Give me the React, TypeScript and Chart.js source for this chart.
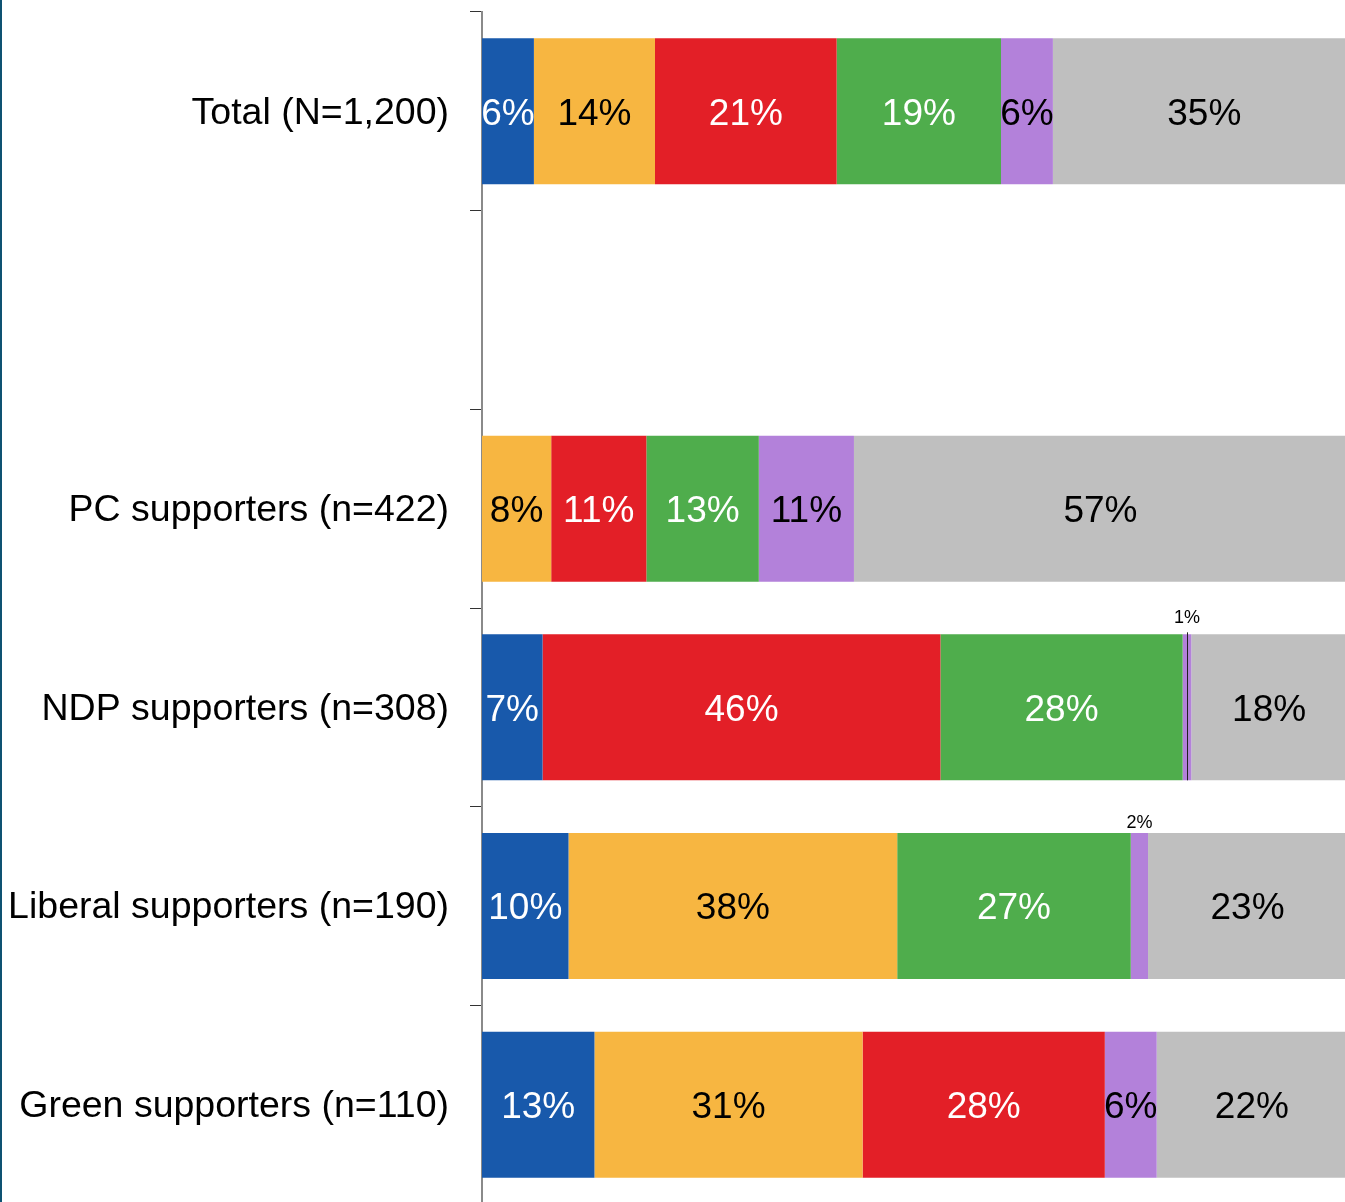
import React, { useEffect, useRef } from "react";
import { Chart, registerables } from "chart.js";

Chart.register(...registerables);

const categories = [
  "Total (N=1,200)",
  "",
  "PC supporters (n=422)",
  "NDP supporters (n=308)",
  "Liberal supporters (n=190)",
  "Green supporters (n=110)",
];

const seriesNames = ["PC", "NDP", "Liberal", "Green", "Other", "None / Undecided"];
const pcValues = [6, null, null, 7, 10, 13];
const ndpValues = [14, null, 8, null, 38, 31];
const liberalValues = [21, null, 11, 46, null, 28];
const greenValues = [19, null, 13, 28, 27, null];
const otherValues = [6, null, 11, 1, 2, 6];
const noneValues = [35, null, 57, 18, 23, 22];

const seriesColors = ["#1859AB", "#F7B641", "#E31F27", "#4FAD4C", "#B381DA", "#BFBFBF"];
const labelColors = ["#FFFFFF", "#000000", "#FFFFFF", "#FFFFFF", "#000000", "#000000"];

const FONT = '"Liberation Sans", Arial, Helvetica, sans-serif';

const labelPlugin = {
  id: "segmentLabels",
  beforeDraw(chart: any) {
    const ctx = chart.ctx;
    ctx.save();
    ctx.fillStyle = "#FFFFFF";
    ctx.fillRect(0, 0, chart.width, chart.height);
    ctx.fillStyle = "#0E5272";
    ctx.fillRect(0, 0, 2, chart.height);
    ctx.restore();
  },
  afterDatasetsDraw(chart: any) {
    const ctx = chart.ctx;
    ctx.save();
    chart.data.datasets.forEach((ds: any, di: number) => {
      const meta = chart.getDatasetMeta(di);
      meta.data.forEach((el: any, i: number) => {
        const v = ds.data[i];
        if (v === null || v === undefined) return;
        const left = Math.min(el.x, el.base);
        const right = Math.max(el.x, el.base);
        const cx = (left + right) / 2;
        const top = el.y - el.height / 2;
        const bottom = el.y + el.height / 2;
        if (v <= 2) {
          const hasLeader = v <= 1;
          ctx.font = `18px ${FONT}`;
          ctx.fillStyle = "#000000";
          ctx.textAlign = "center";
          ctx.textBaseline = "middle";
          ctx.fillText(`${v}%`, cx, top - (hasLeader ? 16 : 10));
          if (hasLeader) {
            ctx.strokeStyle = "#222222";
            ctx.lineWidth = 1;
            ctx.beginPath();
            ctx.moveTo(Math.round(cx) + 0.5, top - 2);
            ctx.lineTo(Math.round(cx) + 0.5, bottom);
            ctx.stroke();
          }
        } else {
          ctx.font = `37px ${FONT}`;
          ctx.fillStyle = labelColors[di];
          ctx.textAlign = "center";
          ctx.textBaseline = "middle";
          ctx.fillText(`${v}%`, cx, el.y + 3);
        }
      });
    });
    ctx.restore();
  },
};

export default function App() {
  const canvasRef = useRef<HTMLCanvasElement | null>(null);

  useEffect(() => {
    if (!canvasRef.current) return;
    const allValues = [pcValues, ndpValues, liberalValues, greenValues, otherValues, noneValues];
    const chart = new Chart(canvasRef.current, {
      type: "bar",
      data: {
        labels: categories,
        datasets: allValues.map((vals, i) => ({
          label: seriesNames[i],
          data: vals,
          backgroundColor: seriesColors[i],
          borderWidth: 0,
          categoryPercentage: 1,
          barPercentage: 0.735,
        })),
      },
      options: {
        indexAxis: "y",
        responsive: false,
        animation: false,
        layout: { padding: { top: 12, left: 0, right: 0, bottom: 0 } },
        plugins: {
          legend: { display: false },
          tooltip: { enabled: false },
        },
        scales: {
          x: {
            stacked: true,
            display: false,
            min: 0,
            max: 100,
          },
          y: {
            stacked: true,
            afterFit: (s: any) => {
              s.width = 482;
              s.paddingTop = 0;
              s.paddingBottom = 0;
            },
            grid: {
              display: true,
              offset: true,
              drawOnChartArea: false,
              drawTicks: true,
              tickLength: 12,
              tickColor: "#333333",
              tickWidth: 1,
            },
            border: { display: true, color: "#8A8A8A", width: 2 },
            ticks: {
              color: "#000000",
              padding: 21,
              labelOffset: 2,
              font: { family: FONT, size: 37.5 },
            },
          },
        },
      },
      plugins: [labelPlugin],
    } as any);
    return () => chart.destroy();
  }, []);

  return (
    <div
      style={{
        position: "fixed",
        left: 0,
        top: 0,
        width: 1345,
        height: 1202,
        overflow: "hidden",
        background: "#FFFFFF",
      }}
    >
      <canvas ref={canvasRef} width={1347} height={1204} style={{ display: "block" }} />
    </div>
  );
}
